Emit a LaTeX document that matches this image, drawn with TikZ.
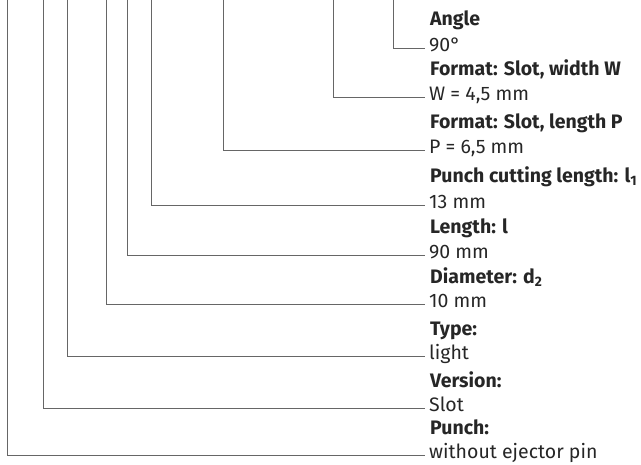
\documentclass[tikz,border=0pt]{standalone}
\usepackage{fontspec}
\setmainfont{Fira Sans}
\usepackage{tikz}
\usetikzlibrary{positioning}

\begin{document}
\begin{tikzpicture}[
  x=1pt, y=-1pt,
  font=\fontsize{19.5}{23}\selectfont,
  head/.style ={anchor=west, inner xsep=0pt, inner ysep=0pt, text height=1.5ex, text depth=.3ex, text=black!85, font=\fontsize{19.5}{23}\selectfont\bfseries},
  val/.style  ={anchor=west, inner xsep=4pt, inner ysep=0pt, text height=1.5ex, text depth=.3ex, text=black!85},
  lead/.style ={draw=black!60, line width=0.7pt},
]
\useasboundingbox (0,0) rectangle (641,465);
% labels
\node[head] (hang)  at (430, 22)  {Angle};
\node[val]  (vang)  at (425, 48)  {90°};
\node[head] (hwid)  at (430, 72)  {Format: Slot, width W};
\node[val]  (vwid)  at (425, 97)  {W = 4,5 mm};
\node[head] (hlen)  at (430, 125) {Format: Slot, length P};
\node[val]  (vlen)  at (425, 150) {P = 6,5 mm};
\node[head] (hcut)  at (430, 179) {Punch cutting length: l\textsubscript{1}};
\node[val]  (vcut)  at (425, 205) {13 mm};
\node[head] (hl)    at (430, 230) {Length: l};
\node[val]  (vl)    at (425, 255) {90 mm};
\node[head] (hdia)  at (430, 280) {Diameter: d\textsubscript{2}};
\node[val]  (vdia)  at (425, 304) {10 mm};
\node[head] (htyp)  at (430, 332) {Type:};
\node[val]  (vtyp)  at (425, 356) {light};
\node[head] (hver)  at (430, 384) {Version:};
\node[val]  (vver)  at (425, 408) {Slot};
\node[head] (hpun)  at (430, 431) {Punch:};
\node[val]  (vpun)  at (425, 455) {without ejector pin};
% top ends of the leaders
\coordinate (tang) at (393, 0);
\coordinate (twid) at (333, 0);
\coordinate (tlen) at (223, 0);
\coordinate (tcut) at (151, 0);
\coordinate (tl)   at (127, 0);
\coordinate (tdia) at (106, 0);
\coordinate (ttyp) at (67, 0);
\coordinate (tver) at (43, 0);
\coordinate (tpun) at (7, 0);
% leaders
\draw[lead] (tang) |- (vang.west);
\draw[lead] (twid) |- (vwid.west);
\draw[lead] (tlen) |- (vlen.west);
\draw[lead] (tcut) |- (vcut.west);
\draw[lead] (tl)   |- (vl.west);
\draw[lead] (tdia) |- (vdia.west);
\draw[lead] (ttyp) |- (vtyp.west);
\draw[lead] (tver) |- (vver.west);
\draw[lead] (tpun) |- (vpun.west);
\end{tikzpicture}
\end{document}
